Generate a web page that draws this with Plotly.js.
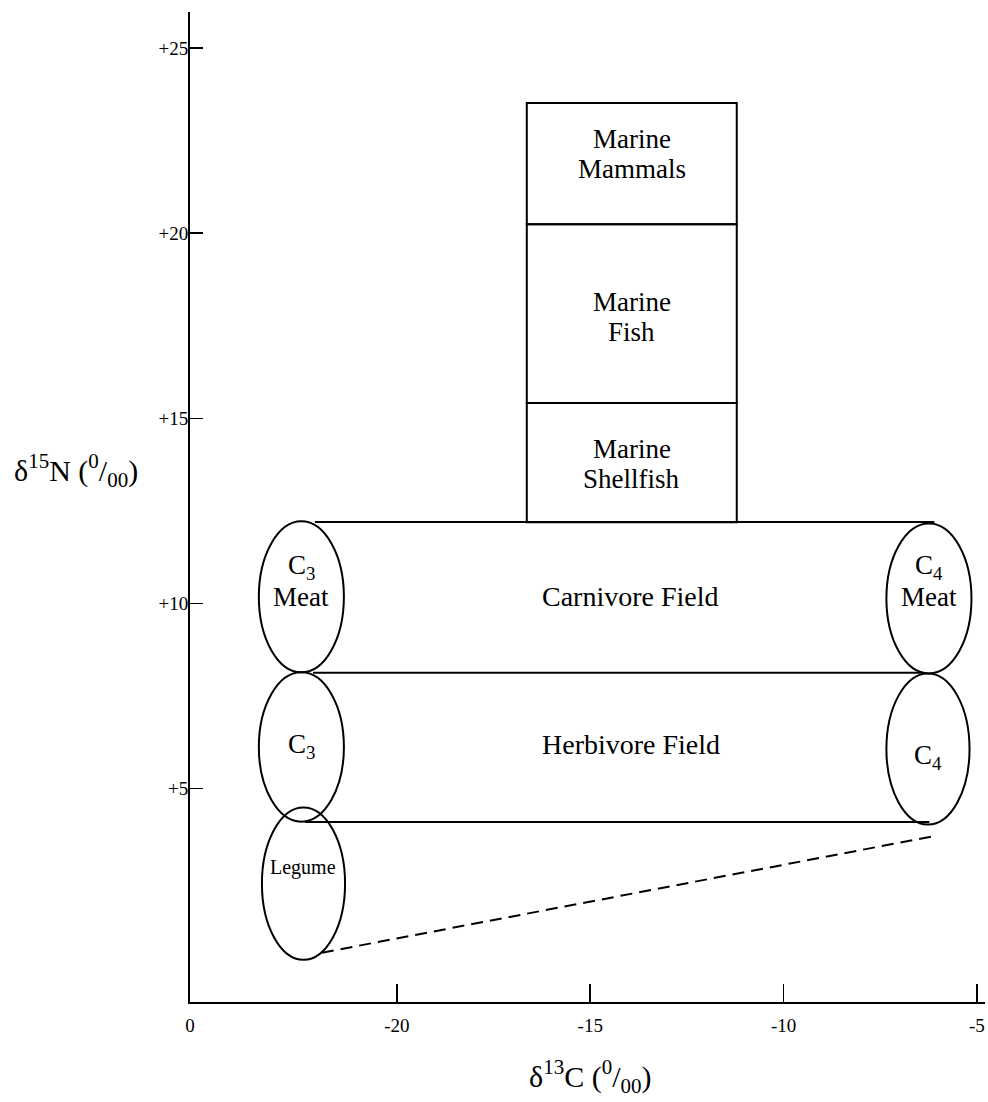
<!DOCTYPE html>
<html>
<head>
<meta charset="utf-8">
<script src="https://cdn.plot.ly/plotly-3.0.1.min.js"></script>
<style>html,body{margin:0;padding:0;background:#fff;}#chart{width:988px;height:1102px;}</style>
</head>
<body>
<div id="chart"></div>
<script>
// Axis extents (delta 13C broken axis starts at "0")
const xRange = [-25.35, -4.79];
const yRange = [-0.76, 25.97];
const xTickVals = [-25.35, -20, -15, -10, -5];
const xTickText = ['0', '-20', '-15', '-10', '-5'];
const yTickVals = [5, 10, 15, 20, 25];
const yTickText = ['+5', '+10', '+15', '+20', '+25'];

// Marine boxes
const marineNames = ['Marine<br>Shellfish', 'Marine<br>Fish', 'Marine<br>Mammals'];
const marineBottom = [12.19, 15.41, 20.24];
const marineTop = [15.41, 20.24, 23.51];
const marineLeft = [-16.64, -16.64, -16.64];
const marineRight = [-11.21, -11.21, -11.21];
const marineLabelY = [13.76, 17.73, 22.14];

// Field boundary lines
const fieldLineY = [12.2, 8.13, 4.1];
const fieldLineX0 = [-22.12, -22.17, -22.38];
const fieldLineX1 = [-6.10, -6.41, -6.23];
const fieldNames = ['Carnivore Field', 'Herbivore Field'];
const fieldLabelX = [-13.95, -13.95];
const fieldLabelY = [10.2, 6.19];

// Ellipses
const ellNames = ['C<sub>3</sub><br>Meat', 'C<sub>3</sub>', 'Legume', 'C<sub>4</sub><br>Meat', 'C<sub>4</sub>'];
const ellX0 = [-23.57, -23.57, -23.49, -7.34, -7.34];
const ellX1 = [-21.37, -21.37, -21.34, -5.14, -5.19];
const ellY0 = [8.14, 4.11, 0.38, 8.11, 4.03];
const ellY1 = [12.22, 8.14, 4.49, 12.16, 8.11];
const ellLabelY = [10.57, 6.14, 2.86, 10.57, 5.86];

// Dashed legume line
const dashX = [-21.94, -6.05];
const dashY = [0.57, 3.73];

const FONT = '"Liberation Serif", "Times New Roman", serif';
const LINE_GAP = 30; // px between stacked text lines
const shapes = [];
const annotations = [];

function addLabel(x, y, text, size) {
  const lines = text.split('<br>');
  const n = lines.length;
  lines.forEach((ln, k) => {
    annotations.push({xref: 'x', yref: 'y', x: x, y: y, text: ln, showarrow: false,
      xanchor: 'center', yanchor: 'middle', yshift: ((n - 1) / 2 - k) * LINE_GAP,
      font: {family: FONT, size: size, color: '#000'}});
  });
}

for (let i = 0; i < marineNames.length; i++) {
  shapes.push({type: 'rect', xref: 'x', yref: 'y', x0: marineLeft[i], x1: marineRight[i],
    y0: marineBottom[i], y1: marineTop[i], line: {color: '#000', width: 2}});
  addLabel((marineLeft[i] + marineRight[i]) / 2, marineLabelY[i], marineNames[i], 27);
}
for (let i = 0; i < fieldLineY.length; i++) {
  shapes.push({type: 'line', xref: 'x', yref: 'y', x0: fieldLineX0[i], x1: fieldLineX1[i],
    y0: fieldLineY[i], y1: fieldLineY[i], line: {color: '#000', width: 2}});
}
for (let i = 0; i < fieldNames.length; i++) {
  addLabel(fieldLabelX[i], fieldLabelY[i], fieldNames[i], 28);
}
for (let i = 0; i < ellNames.length; i++) {
  shapes.push({type: 'circle', xref: 'x', yref: 'y', x0: ellX0[i], x1: ellX1[i],
    y0: ellY0[i], y1: ellY1[i], line: {color: '#000', width: 2}});
  addLabel((ellX0[i] + ellX1[i]) / 2, ellLabelY[i], ellNames[i], ellNames[i] === 'Legume' ? 20 : 27);
}

// Axis titles
annotations.push({xref: 'paper', yref: 'paper', x: (76 - 190) / 795, y: (1002 - 470) / 990,
  text: 'δ<sup>15</sup>N (<sup>0</sup>/<sub>00</sub>)', showarrow: false, xanchor: 'center', yanchor: 'middle',
  font: {family: FONT, size: 30, color: '#000'}});
annotations.push({xref: 'paper', yref: 'paper', x: (590 - 190) / 795, y: (1002 - 1076) / 990,
  text: 'δ<sup>13</sup>C (<sup>0</sup>/<sub>00</sub>)', showarrow: false, xanchor: 'center', yanchor: 'middle',
  font: {family: FONT, size: 30, color: '#000'}});

const traces = [{
  x: dashX, y: dashY, type: 'scatter', mode: 'lines',
  line: {color: '#000', width: 2, dash: '12px,7px'}, hoverinfo: 'skip', showlegend: false
}];

const layout = {
  width: 988, height: 1102,
  margin: {l: 190, r: 3, t: 12, b: 100},
  paper_bgcolor: '#fff', plot_bgcolor: '#fff',
  showlegend: false,
  xaxis: {range: xRange, showgrid: false, zeroline: false, showline: true, linecolor: '#000', linewidth: 2,
    tickvals: xTickVals, ticktext: xTickText, ticks: 'inside', ticklen: 18, tickwidth: 1.5, tickcolor: '#000',
    ticklabeloverflow: 'allow', ticklabelstandoff: 5,
    tickfont: {family: FONT, size: 19, color: '#000'}, fixedrange: true},
  yaxis: {range: yRange, showgrid: false, zeroline: false, showline: true, linecolor: '#000', linewidth: 2,
    tickvals: yTickVals, ticktext: yTickText, ticks: 'inside', ticklen: 13, tickwidth: 1.5, tickcolor: '#000',
    ticklabelstandoff: -4,
    tickfont: {family: FONT, size: 19, color: '#000'}, fixedrange: true},
  shapes: shapes,
  annotations: annotations
};

Plotly.newPlot('chart', traces, layout, {staticPlot: true, displayModeBar: false});
</script>
</body>
</html>
